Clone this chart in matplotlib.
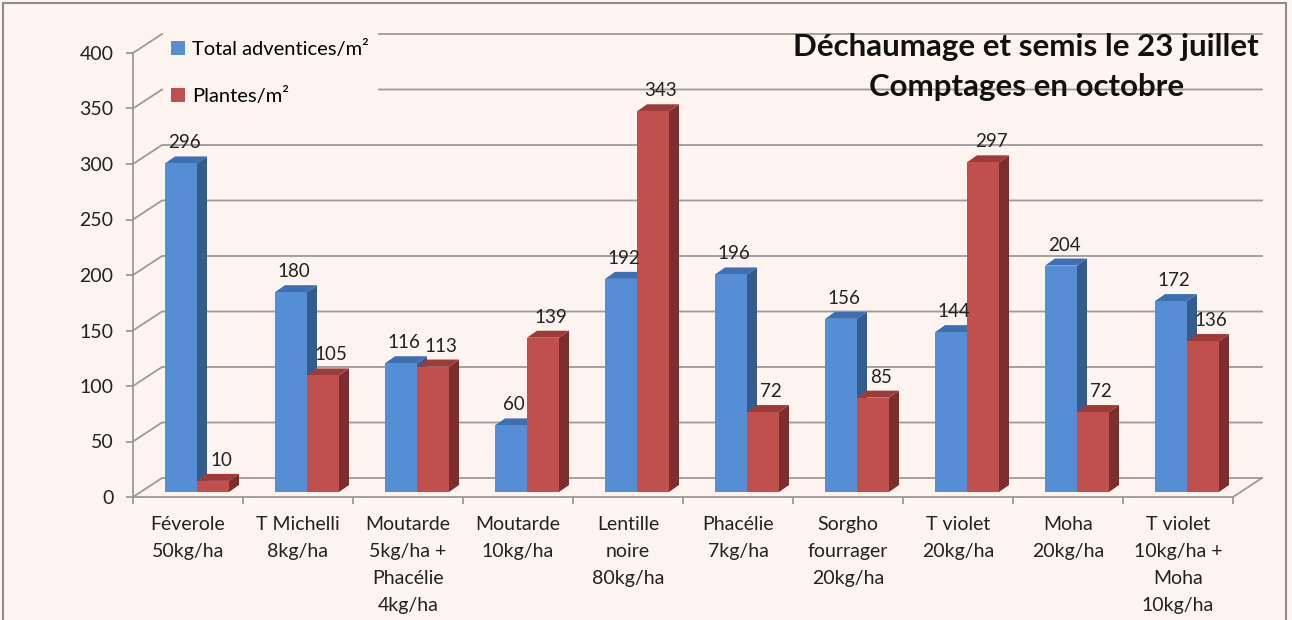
import matplotlib.pyplot as plt
from matplotlib.patches import Polygon, Rectangle

# Données
categories = [
    "Féverole\n50kg/ha", "T Michelli\n8kg/ha", "Moutarde\n5kg/ha +\nPhacélie\n4kg/ha",
    "Moutarde\n10kg/ha", "Lentille\nnoire\n80kg/ha", "Phacélie\n7kg/ha",
    "Sorgho\nfourrager\n20kg/ha", "T violet\n20kg/ha", "Moha\n20kg/ha",
    "T violet\n10kg/ha +\nMoha\n10kg/ha",
]
adventices = [296, 180, 116, 60, 192, 196, 156, 144, 204, 172]
plantes = [10, 105, 113, 139, 343, 72, 85, 297, 72, 136]
series_names = ["Total adventices/m²", "Plantes/m²"]
yticks = [0, 50, 100, 150, 200, 250, 300, 350, 400]

BG = "#FDF3EF"
GRID = "#9A9A9A"
FRONT = ["#558ED5", "#C0504D"]
SIDE = ["#345C8E", "#7D2E2C"]
TOP = ["#3F6FB0", "#9C3B38"]

plt.rcParams["font.family"] = ["Lato", "DejaVu Sans"]

W, H = 1292, 620
fig = plt.figure(figsize=(W / 100, H / 100), dpi=100, facecolor=BG)
ax = fig.add_axes([133 / W, 1 - 497 / H, 1100 / W, 444 / H])
ax.set_facecolor("none")
ax.set_xlim(0, len(categories))
ax.set_ylim(0, 400)

# conversion pixels -> unités de données
px_x = 1 / 110
px_y = 400 / 444

# paroi du fond (décalage 3D)
wall_dx, wall_dy = 29 * px_x, 19 * px_y
x_end = len(categories) + wall_dx
for v in yticks:
    ax.plot([0, wall_dx, x_end], [v, v + wall_dy, v + wall_dy],
            color=GRID, lw=1.3, clip_on=False, zorder=1)
ax.plot([len(categories), x_end], [0, wall_dy], color=GRID, lw=1.3, clip_on=False, zorder=1)

# barres 3D
bar_w = 32 * px_x
start = 32 * px_x
base = 5 * px_y
ddx, ddy = 10 * px_x, 7 * px_y
label_shift = [3 * px_x, 8 * px_x]
for k, vals in enumerate([adventices, plantes]):
    xs = [i + start + k * bar_w for i in range(len(vals))]
    for x, v in zip(xs, vals):
        top = base + v
        ax.add_patch(Polygon([(x + bar_w, base), (x + bar_w + ddx, base + ddy),
                              (x + bar_w + ddx, top + ddy), (x + bar_w, top)],
                             closed=True, facecolor=SIDE[k], edgecolor="none",
                             zorder=3 + k, clip_on=False))
        ax.add_patch(Polygon([(x, top), (x + bar_w, top), (x + bar_w + ddx, top + ddy),
                              (x + ddx, top + ddy)],
                             closed=True, facecolor=TOP[k], edgecolor="none",
                             zorder=3 + k, clip_on=False))
        ax.text(x + bar_w / 2 + label_shift[k], top + 15 * px_y, str(v), ha="center",
                va="baseline", fontsize=13.5, color="#222222", zorder=6)
    ax.bar(xs, vals, width=bar_w, bottom=base, align="edge", color=FRONT[k],
           edgecolor="none", zorder=3 + k, clip_on=False, label=series_names[k])

# axes
for s in ["top", "right"]:
    ax.spines[s].set_visible(False)
for s in ["left", "bottom"]:
    ax.spines[s].set_color(GRID)
    ax.spines[s].set_linewidth(1.3)
    ax.spines[s].set_zorder(2)
ax.set_yticks(yticks)
ax.tick_params(axis="y", length=5, width=1.3, color=GRID, pad=9, labelsize=14,
               labelcolor="#222222")
ax.set_xticks(range(len(categories) + 1))
ax.set_xticklabels([])
ax.set_xticks([i + 0.5 for i in range(len(categories))], minor=True)
ax.set_xticklabels(categories, minor=True, fontsize=14, color="#222222",
                   linespacing=1.7, va="top")
ax.tick_params(axis="x", which="major", length=5, width=1.3, color=GRID)
ax.tick_params(axis="x", which="minor", length=0, pad=14)

# légende sur fond de la zone
fig.patches.append(Rectangle((163 / W, 1 - 112 / H), 215 / W, 90 / H,
                             transform=fig.transFigure, facecolor=BG,
                             edgecolor="none", zorder=2))
leg = fig.legend(loc="upper left", bbox_to_anchor=(153 / W, 1 - 22 / H),
                 frameon=False, fontsize=14.5, labelspacing=1.45,
                 handlelength=0.7, handleheight=0.7, handletextpad=0.35)
leg.set_zorder(7)

# titre
fig.text(1026 / W, 1 - 47 / H, "Déchaumage et semis le 23 juillet",
         ha="center", va="center", fontsize=22.5, fontweight="bold", color="#111111")
fig.text(1027 / W, 1 - 87 / H, "Comptages en octobre",
         ha="center", va="center", fontsize=22.5, fontweight="bold", color="#111111")

# cadre
fig.patches.append(Rectangle((3 / W, -0.05), 1283 / W, 1.05 - 3 / H,
                             transform=fig.transFigure, facecolor="none",
                             edgecolor="#8C8C8C", lw=1.5))

fig.savefig("out.png", dpi=100, facecolor=BG)
